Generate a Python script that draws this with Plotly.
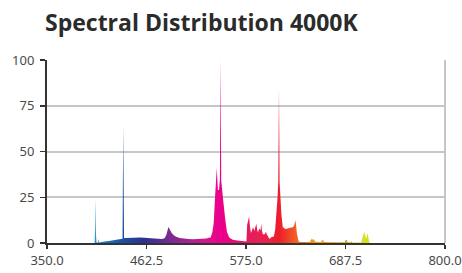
import plotly.graph_objects as go

title_text = "Spectral Distribution 4000K"

wavelength = [
    380, 403.8, 404.4, 404.8, 405.3, 405.9, 407.5, 408.0, 408.6,
    410, 415, 420, 425, 430, 434, 435.4, 436.2, 437.1,
    440, 445, 450, 455, 460, 465, 470, 475, 480, 483, 485, 487.3, 489, 491, 493, 496,
    500, 505, 510, 515, 520, 525, 530, 533, 535, 537, 538.5, 540, 541, 542, 543.2,
    544.5, 545.5, 546.2, 547, 548, 549.5, 551.5, 553.5, 556, 560, 565, 570, 575,
    575.5, 576.3, 577.5, 578.5, 579.5, 580.6, 581.8, 583, 584.3, 585.5, 586.7, 587.7,
    588.6, 589.6, 590.5, 591.3, 592.2, 593.3, 594.2, 595.7, 596.7, 597.6, 598.6, 599.6,
    600.8, 602, 603.5, 605, 606.5, 608, 609.5, 610.7, 611.5, 612.3, 613.0, 613.8, 615,
    616.5, 618, 620, 622, 624, 626, 628, 629.5, 630.7, 631.6, 632.6, 634.5, 636,
    647, 649.5, 650.5, 651.5, 653.4, 660, 661, 662.5, 663.5, 686.5, 687.5, 689, 690,
    693.5, 694.3, 695, 705.5, 707, 708.8, 710.7, 712.5, 714.4, 716, 800,
]

intensity = [
    0, 0, 8, 24.5, 6, 0.3, 0.3, 2.3, 0.3,
    0.5, 0.8, 1.1, 1.4, 1.6, 1.9, 2.3, 64, 2.7,
    2.8, 3.0, 3.1, 3.0, 2.9, 2.8, 2.6, 2.3, 2.2, 2.6, 4.5, 8.8, 7.2, 5.5, 4.4, 3.4,
    2.7, 2.3, 2.2, 2.1, 2.2, 2.3, 2.5, 2.9, 3.0, 6, 11, 25, 36, 41, 29,
    29, 35, 100, 34, 28, 22, 13, 6, 3, 1.8, 1.3, 1.0, 0.8,
    0.8, 10, 12, 14.5, 9, 5.5, 7, 8.7, 6.5, 8, 10.5, 7,
    5.8, 7.5, 7.8, 6.5, 10.5, 6, 4.8, 4.6, 5.2, 6.1, 4.5, 4.0,
    2.8, 2.3, 3.2, 3.4, 3.5, 7.5, 16, 25, 34, 84.5, 33, 25, 16,
    9, 8, 7.6, 8.0, 8.3, 8.5, 8.6, 9.5, 12.4, 10, 5, 1, 0.5,
    0.5, 2.4, 1.6, 2.2, 0.7, 0.5, 1.6, 1.4, 0.5, 0.4, 1.6, 1.6, 0.4,
    0.4, 0.9, 0.3, 0.3, 3.5, 6, 2.4, 5.3, 0.3, 0, 0,
]

x_tick_values = [350, 462.5, 575, 687.5, 800]
x_tick_labels = ["350.0", "462.5", "575.0", "687.5", "800.0"]
y_tick_values = [0, 25, 50, 75, 100]
y_tick_labels = ["0", "25", "50", "75", "100"]

# colour of the fill along the wavelength axis
gradient_wavelengths = [400, 408, 420, 437, 460, 478, 490, 510, 530, 545, 560, 578,
                        600, 612, 625, 635, 650, 665, 690, 708, 720]
gradient_colors = ["#29abe2", "#1b8ccc", "#1b6db5", "#1c4f9f", "#2e3192", "#5b2d90",
                   "#7b2a8f", "#a8238f", "#d4168d", "#ec008c", "#e9067a", "#e41c5e",
                   "#e8224a", "#ec1c2c", "#f04a28", "#f26b25", "#f7941d", "#f0a020",
                   "#d0a822", "#d7df23", "#d7df23"]

g0, g1 = gradient_wavelengths[0], gradient_wavelengths[-1]
colorscale = [[(w - g0) / (g1 - g0), c] for w, c in zip(gradient_wavelengths, gradient_colors)]

fig = go.Figure()
fig.add_trace(go.Scatter(
    x=wavelength, y=intensity, mode="lines",
    line=dict(width=0), fill="tozeroy",
    fillgradient=dict(type="horizontal", colorscale=colorscale, start=g0, stop=g1),
    hoverinfo="skip", showlegend=False,
))

tick_font = dict(family="Noto Sans", size=13, color="#4a4a4a")

fig.update_layout(
    width=462, height=273,
    margin=dict(l=47, r=17, t=60, b=30, pad=0, autoexpand=False),
    paper_bgcolor="white", plot_bgcolor="white",
    title=dict(text="<b>" + title_text + "</b>", xref="container", yref="container",
               x=45 / 462, xanchor="left", y=1 - 23 / 273, yanchor="middle",
               pad=dict(l=0, r=0, t=0, b=0),
               font=dict(family="Open Sans", size=23, color="#2b2b2b")),
    xaxis=dict(range=[350, 800], tickmode="array", tickvals=x_tick_values,
               ticktext=x_tick_labels, ticks="outside", ticklen=4, tickwidth=1.5,
               tickcolor="#333333", showline=True, linecolor="#333333", linewidth=2,
               showgrid=False, zeroline=False, tickfont=tick_font, automargin=False),
    yaxis=dict(range=[0, 100], tickmode="array", tickvals=y_tick_values,
               ticktext=y_tick_labels, ticks="outside", ticklen=5, tickwidth=1.5,
               tickcolor="#333333", showline=True, linecolor="#333333", linewidth=2,
               showgrid=True, gridcolor="#c6c6c6", gridwidth=2, zeroline=False,
               tickfont=tick_font, ticklabelstandoff=3, automargin=False),
    shapes=[dict(type="line", xref="paper", yref="paper", x0=1, x1=1, y0=0, y1=1,
                 line=dict(color="#c6c6c6", width=2), layer="below")],
)

fig.write_html("out.html", config={"displayModeBar": False, "staticPlot": True},
               post_script="document.body.style.margin='0';")
